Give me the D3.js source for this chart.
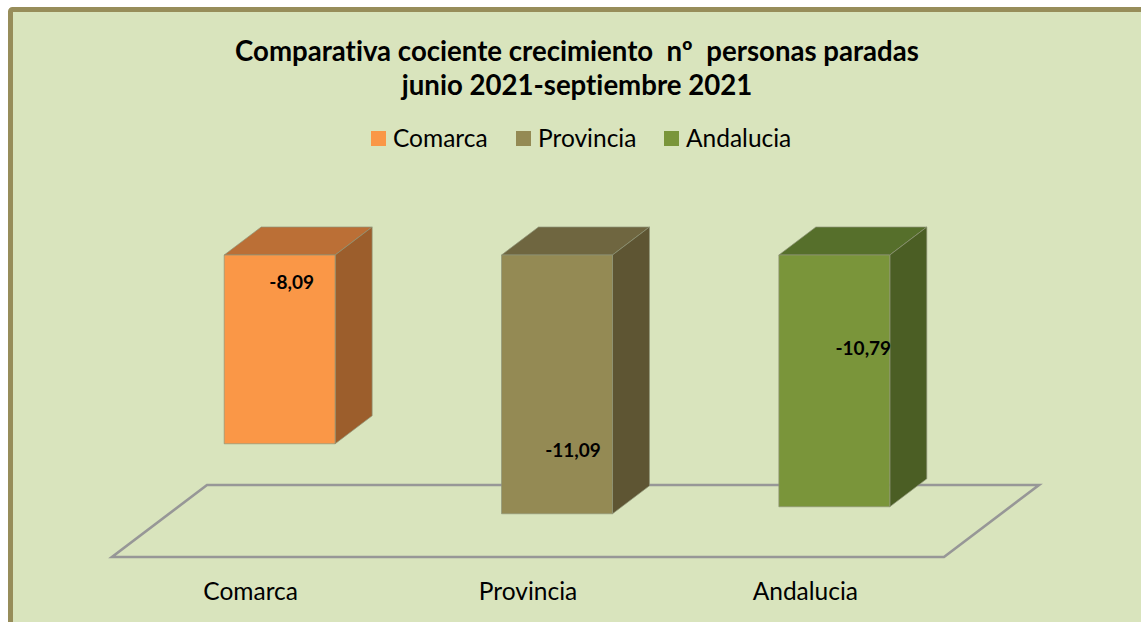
<!DOCTYPE html>
<html>
<head>
<meta charset="utf-8">
<script src="https://d3js.org/d3.v7.min.js"></script>
<style>
  html, body { margin: 0; padding: 0; background: #fff; overflow: hidden; }
  svg { display: block; }
  text { font-family: Lato, "Open Sans", sans-serif; fill: #000; white-space: pre; font-variant-ligatures: none; }
  .title { font-size: 27.6px; font-weight: 700; text-anchor: middle; }
  .legend-label { font-size: 24.5px; }
  .value-label { font-size: 19px; font-weight: 700; text-anchor: middle; }
  .tick text { font-size: 24.5px; }
</style>
</head>
<body>
<div id="chart"></div>
<script>
var svgWidth = 1141;
var svgHeight = 622;

// Data
var categories = ["Comarca", "Provincia", "Andalucia"];
var values = [-8.09, -11.09, -10.79];
var valueLabels = ["-8,09", "-11,09", "-10,79"];
var titleLines = ["Comparativa cociente crecimiento  nº  personas paradas", "junio 2021-septiembre 2021"];
var axisDomain = [0, -12];

// Drawing styles
var frontColors = ["#fa9747", "#948a54", "#7a953a"];
var topColors = ["#bb6f36", "#6f6640", "#566f2b"];
var sideColors = ["#9c5e2c", "#5e5533", "#4b5e24"];

// the labels were dragged by hand in the original, offset from bar top centre
var labelOffsets = [[12, 34], [16, 202], [29, 100]];

// 3D projection: how far the floor and the bars go back
var floorDepth = { x: 95, y: -72 };
var barNear = { x: 29, y: -22 };
var barFar = { x: 66, y: -50 };

var svg = d3.select("#chart")
  .append("svg")
  .attr("width", svgWidth)
  .attr("height", svgHeight);

// Frame and background, it runs off the right and bottom of the picture
svg.append("rect")
  .attr("x", 10.5)
  .attr("y", 9.5)
  .attr("width", 1300)
  .attr("height", 800)
  .attr("rx", 2)
  .attr("fill", "#d9e4bd")
  .attr("stroke", "#978d5a")
  .attr("stroke-width", 5);

// Title
svg.append("g").selectAll("text")
  .data(titleLines)
  .enter()
  .append("text")
  .attr("class", "title")
  .attr("x", 577)
  .attr("y", (d, i) => 61 + i * 34)
  .text(d => d);

// Scales
var xScale = d3.scaleBand()
  .domain(categories)
  .range([112, 944])
  .paddingInner(0.6)
  .paddingOuter(0.3);

var yScale = d3.scaleLinear()
  .domain(axisDomain)
  .range([277, 557]);

// Floor
var floorY = yScale(axisDomain[1]);
var floorLeft = xScale.range()[0];
var floorRight = xScale.range()[1];
var floorPoints = [
  [floorLeft, floorY],
  [floorRight, floorY],
  [floorRight + floorDepth.x, floorY + floorDepth.y],
  [floorLeft + floorDepth.x, floorY + floorDepth.y]
];
svg.append("polygon")
  .attr("points", floorPoints.join(" "))
  .attr("fill", "none")
  .attr("stroke", "#979797")
  .attr("stroke-width", 2.6)
  .attr("stroke-linejoin", "miter");

// Category axis
var bottomAxis = d3.axisBottom(xScale).tickSize(0).tickPadding(0);
var xAxis = svg.append("g")
  .attr("transform", `translate(0, ${floorY + 26})`)
  .call(bottomAxis);
xAxis.select(".domain").remove();

// Bars, every face is built from the scales
var barData = categories.map((c, i) => ({ category: c, value: values[i], index: i }));

function facePoints(d, face) {
  var x0 = xScale(d.category) + barNear.x;
  var x1 = x0 + xScale.bandwidth();
  var y0 = yScale(0) + barNear.y;
  var y1 = yScale(d.value) + barNear.y;
  var dx = barFar.x - barNear.x;
  var dy = barFar.y - barNear.y;
  if (face === "top") {
    return [[x0, y0], [x1, y0], [x1 + dx, y0 + dy], [x0 + dx, y0 + dy]];
  }
  if (face === "side") {
    return [[x1, y0], [x1 + dx, y0 + dy], [x1 + dx, y1 + dy], [x1, y1]];
  }
  return [[x0, y0], [x1, y0], [x1, y1], [x0, y1]];
}

var barGroups = svg.append("g").selectAll("g")
  .data(barData)
  .enter()
  .append("g");

[["top", topColors], ["side", sideColors], ["front", frontColors]].forEach(function(face) {
  barGroups.append("polygon")
    .attr("points", d => facePoints(d, face[0]).join(" "))
    .attr("fill", d => face[1][d.index])
    .attr("stroke", "#8f9478")
    .attr("stroke-opacity", 0.7)
    .attr("stroke-width", 1);
});

// Value labels
barGroups.append("text")
  .attr("class", "value-label")
  .attr("x", d => xScale(d.category) + barNear.x + xScale.bandwidth() / 2 + labelOffsets[d.index][0])
  .attr("y", d => yScale(0) + barNear.y + labelOffsets[d.index][1])
  .text(d => valueLabels[d.index]);

// Legend
var legendX = [371, 516, 664];
var legend = svg.append("g").selectAll("g")
  .data(categories)
  .enter()
  .append("g")
  .attr("transform", (d, i) => `translate(${legendX[i]}, 131)`);

legend.append("rect")
  .attr("width", 15)
  .attr("height", 15)
  .attr("fill", (d, i) => frontColors[i]);

legend.append("text")
  .attr("class", "legend-label")
  .attr("x", 22)
  .attr("y", 15.5)
  .text(d => d);
</script>
</body>
</html>
